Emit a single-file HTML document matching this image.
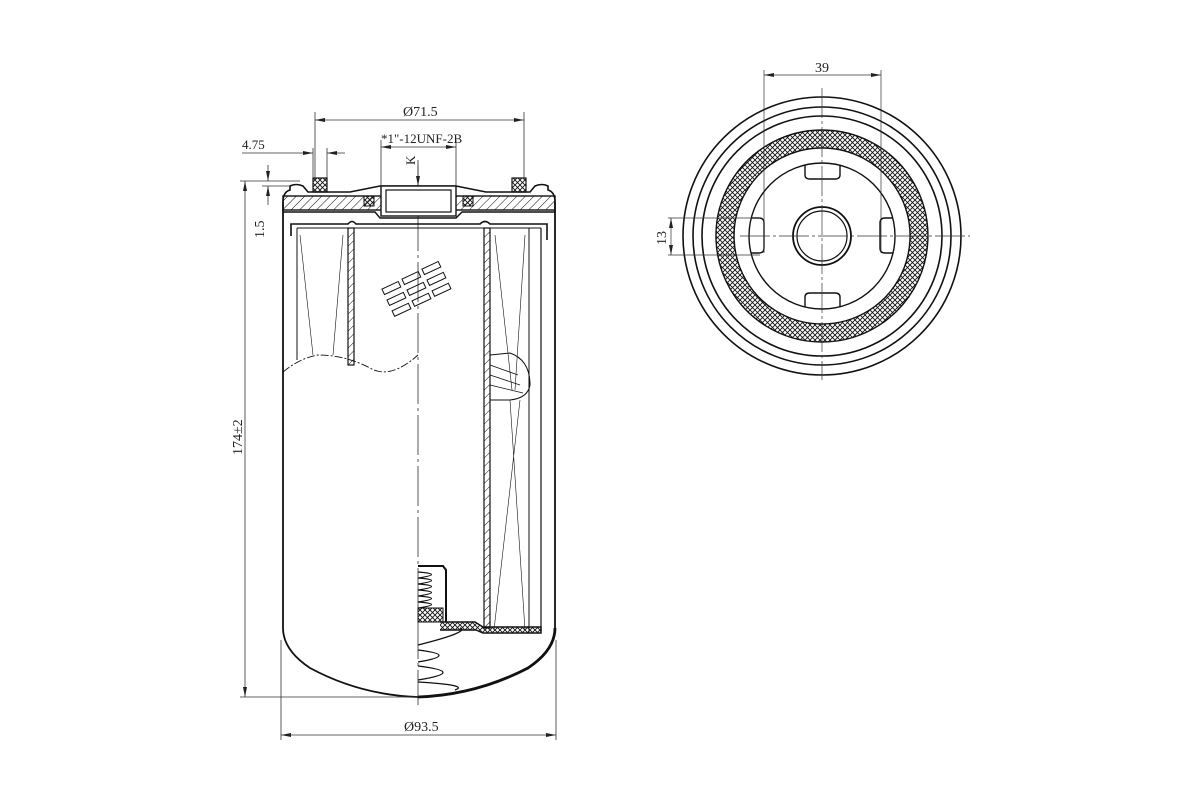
<!DOCTYPE html>
<html><head><meta charset="utf-8"><style>
html,body{margin:0;padding:0;background:#fff;width:1200px;height:800px;overflow:hidden}
svg{display:block}
text{font-family:"Liberation Serif",serif;fill:#222}
</style></head><body>
<svg width="1200" height="800" viewBox="0 0 1200 800" xmlns="http://www.w3.org/2000/svg">
<defs>
<pattern id="x" width="5" height="5" patternUnits="userSpaceOnUse">
<path d="M0 0L5 5M5 0L0 5" stroke="#111" stroke-width="0.9"/></pattern>
<pattern id="h" width="6" height="6" patternUnits="userSpaceOnUse" patternTransform="rotate(45)">
<line x1="0" y1="0" x2="0" y2="6" stroke="#111" stroke-width="1"/></pattern>
<marker id="a" markerWidth="10" markerHeight="6" refX="10" refY="3" orient="auto-start-reverse" markerUnits="userSpaceOnUse"><path d="M0 1L10 3L0 5z" fill="#222"/></marker>
</defs>
<g fill="none" stroke="#111">
<line x1="418" y1="160" x2="418" y2="705" stroke-width="0.7" stroke-dasharray="40 4 3 4"/>
<path d="M283 202 L283 628 Q283 650 310 668 Q360 695 418 697 Q476 695 528 668 Q555 650 555 628 L555 202" stroke-width="1.8"/>
<path d="M418 697 Q476 695 528 668 Q555 650 555 628" stroke-width="2.8"/>
<path d="M283 202 Q283 192 290 190 L290 186 Q296 183 303 186 L308 192 L350 192 L380 186 L456 186 L486 192 L530 192 L535 186 Q542 183 548 186 L548 190 Q555 192 555 202" stroke-width="1.6"/>
<rect x="283" y="196" width="272" height="14" fill="url(#h)" stroke-width="1.4"/>
<rect x="381" y="186" width="75" height="30" fill="#fff" stroke-width="1.4"/>
<rect x="386" y="190" width="65" height="22" fill="#fff" stroke-width="1.2"/>
<rect x="313" y="178" width="14" height="14" fill="url(#x)" stroke-width="1.2"/>
<rect x="512" y="178" width="14" height="14" fill="url(#x)" stroke-width="1.2"/>
<rect x="364" y="196" width="10" height="10" fill="url(#x)" stroke-width="1"/>
<rect x="463" y="196" width="10" height="10" fill="url(#x)" stroke-width="1"/>
<path d="M283 212 L375 212 L380 218 L456 218 L462 212 L555 212" stroke-width="1.4"/>
<path d="M291 236 L291 224 L348 224 Q352 219 356 224 L480 224 Q485 219 490 224 L547 224 L547 240" stroke-width="1.6"/>
<line x1="297" y1="228" x2="541" y2="228" stroke-width="1"/>
<line x1="297" y1="228" x2="297" y2="360" stroke-width="1"/>
<line x1="541" y1="228" x2="541" y2="633" stroke-width="1.2"/>
<line x1="529" y1="228" x2="529" y2="633" stroke-width="1"/>
<rect x="348" y="228" width="6" height="137" fill="url(#h)" stroke-width="1.2"/>
<rect x="484" y="228" width="6" height="400" fill="url(#h)" stroke-width="1.2"/>
<g stroke-width="0.6">
<path d="M300 235L313 355M343 235L333 355"/>
<path d="M495 235L512 390M525 235L515 390M494 630L520 400M525 630L510 400"/>
</g>
<path d="M283 372 Q300 358 318 355 Q345 355 370 368 Q390 380 418 355" stroke-width="0.9" stroke-dasharray="8 2 2 2"/>
<g stroke-width="1">
<g transform="translate(387,300) rotate(-25)"><rect x="0" y="0" width="18" height="6"/><rect x="0" y="-12" width="18" height="6"/><rect x="0" y="12" width="18" height="6"/></g>
<g transform="translate(407,290) rotate(-25)"><rect x="0" y="0" width="18" height="6"/><rect x="0" y="-12" width="18" height="6"/><rect x="0" y="12" width="18" height="6"/></g>
<g transform="translate(427,280) rotate(-25)"><rect x="0" y="0" width="18" height="6"/><rect x="0" y="-12" width="18" height="6"/><rect x="0" y="12" width="18" height="6"/></g>
</g>
<path d="M490 355 L510 353 Q530 360 530 385 Q528 398 510 400 L490 400" stroke-width="1"/>
<path d="M490 365L518 375M490 375L520 385M490 385L523 393" stroke-width="0.8"/>
<path d="M440 622 L475 622 L483 627 L541 627 L541 633 L483 633 L476 630 L440 630" stroke-width="1.4" fill="url(#x)"/>
<path d="M418 566 L443 566 L446 570 L446 622" stroke-width="2"/>
<rect x="418" y="608" width="25" height="14" fill="url(#x)" stroke-width="1"/>
<path d="M418 572 Q445 574 418 578 Q445 580 418 584 Q445 586 418 590 Q445 592 418 596 Q445 598 418 602 Q445 604 418 608" stroke-width="1.2"/>
<path d="M418 645 Q470 632 460 628 M418 650 Q460 655 418 662 M418 666 Q468 672 418 680 M418 682 Q470 685 455 690" stroke-width="1.3"/>
<g stroke="#333" stroke-width="0.8">
<line x1="315" y1="112" x2="315" y2="180"/><line x1="524" y1="112" x2="524" y2="180"/>
<line x1="315" y1="120" x2="524" y2="120" marker-start="url(#a)" marker-end="url(#a)"/>
<line x1="381" y1="140" x2="381" y2="186"/><line x1="456" y1="140" x2="456" y2="186"/>
<line x1="381" y1="147" x2="456" y2="147" marker-start="url(#a)" marker-end="url(#a)"/>
<line x1="418" y1="165" x2="418" y2="186" marker-end="url(#a)"/>
<line x1="313" y1="148" x2="313" y2="178"/><line x1="327" y1="148" x2="327" y2="178"/>
<line x1="242" y1="153" x2="313" y2="153" marker-end="url(#a)"/>
<line x1="345" y1="153" x2="327" y2="153" marker-end="url(#a)"/>
<line x1="240" y1="181" x2="300" y2="181"/>
<line x1="262" y1="186" x2="290" y2="186"/>
<line x1="268" y1="165" x2="268" y2="181" marker-end="url(#a)"/>
<line x1="268" y1="205" x2="268" y2="186" marker-end="url(#a)"/>
<line x1="240" y1="697" x2="418" y2="697"/>
<line x1="245" y1="181" x2="245" y2="697" marker-start="url(#a)" marker-end="url(#a)"/>
<line x1="281" y1="640" x2="281" y2="740"/><line x1="556" y1="640" x2="556" y2="740"/>
<line x1="281" y1="735" x2="556" y2="735" marker-start="url(#a)" marker-end="url(#a)"/>
</g>
<g stroke-width="1.6">
<circle cx="822" cy="236" r="139"/>
<circle cx="822" cy="236" r="129"/>
<circle cx="822" cy="236" r="120"/>
</g>
<path d="M822 130 A106 106 0 1 1 821.9 130 Z M822 148 A88 88 0 1 0 822.1 148 Z" fill="url(#x)" fill-rule="evenodd" stroke-width="1.4"/>
<circle cx="822" cy="236" r="73" stroke-width="1.4"/>
<circle cx="822" cy="236" r="29" stroke-width="1.8"/>
<circle cx="822" cy="236" r="25" stroke-width="1.2"/>
<g stroke-width="1.4">
<path d="M805 165 L805 175 Q805 179 810 179 L835 179 Q840 179 840 175 L840 165"/>
<path d="M805 307 L805 297 Q805 293 810 293 L835 293 Q840 293 840 297 L840 307"/>
<path d="M751 218 L759 218 Q764 218 764 223 L764 248 Q764 253 759 253 L751 253"/>
<path d="M893 218 L885 218 Q880 218 880 223 L880 248 Q880 253 885 253 L893 253"/>
</g>
<g stroke="#333" stroke-width="0.7">
<line x1="822" y1="88" x2="822" y2="380" stroke-dasharray="30 3 3 3"/>
<line x1="740" y1="236" x2="970" y2="236" stroke-dasharray="30 3 3 3"/>
<line x1="764" y1="70" x2="764" y2="253"/><line x1="881" y1="70" x2="881" y2="253"/>
<line x1="764" y1="75" x2="881" y2="75" marker-start="url(#a)" marker-end="url(#a)"/>
<line x1="668" y1="218" x2="760" y2="218"/><line x1="668" y1="255" x2="760" y2="255"/>
<line x1="671" y1="218" x2="671" y2="255" marker-start="url(#a)" marker-end="url(#a)"/>
</g>
</g>
<g font-size="14">
<text x="403" y="116">Ø71.5</text>
<text x="381" y="143" font-size="13">*1"-12UNF-2B</text>
<text x="242" y="149" font-size="13">4.75</text>
<text x="404" y="731">Ø93.5</text>
<text x="815" y="72">39</text>
<text transform="translate(415,165) rotate(-90)" font-size="13">K</text>
<text transform="translate(264,238) rotate(-90)">1.5</text>
<text transform="translate(242,455) rotate(-90)">174±2</text>
<text transform="translate(666,245) rotate(-90)">13</text>
</g>
</svg>
</body></html>
